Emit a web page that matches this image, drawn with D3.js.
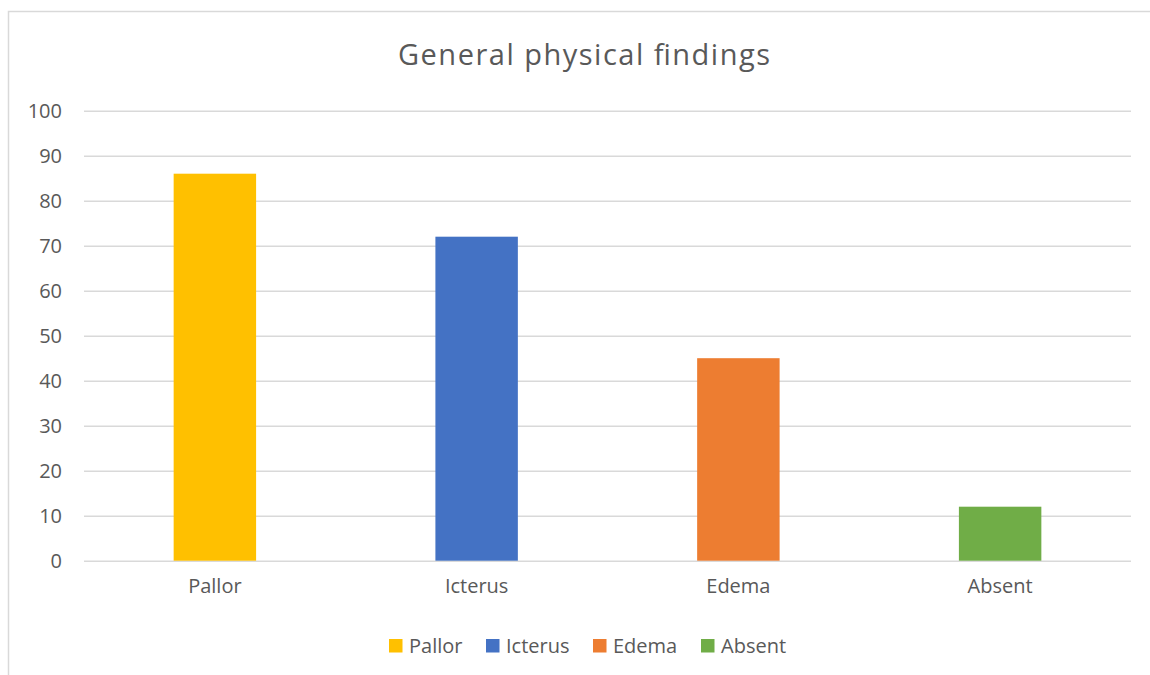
<!DOCTYPE html>
<html>
<head>
<meta charset="utf-8">
<script src="https://cdn.jsdelivr.net/npm/d3@7"></script>
<style>
  html, body { margin: 0; padding: 0; background: #fff; }
  svg { display: block; font-family: "Open Sans", "Noto Sans", sans-serif; }
</style>
</head>
<body>
<svg id="chart" width="1150" height="675"></svg>
<script>
const categories = ["Pallor", "Icterus", "Edema", "Absent"];
const values = [86, 72, 45, 12];
const colors = ["#FFC000", "#4472C4", "#ED7D31", "#70AD47"];
const yTicks = [0, 10, 20, 30, 40, 50, 60, 70, 80, 90, 100];
const title = "General physical findings";

const svg = d3.select("#chart");
const W = 1150, H = 675;
const plot = { left: 84, right: 1131, top: 110.7, bottom: 560.7 };
const textColor = "#595959";
const gridColor = "#d9d9d9";

svg.append("rect").attr("width", W).attr("height", H).attr("fill", "#fff");

// chart frame (right and bottom edges fall outside the page)
svg.append("rect")
  .attr("x", 8.5).attr("y", 11.5)
  .attr("width", W + 20).attr("height", H + 20)
  .attr("fill", "none").attr("stroke", gridColor).attr("stroke-width", 1.5);

// title
svg.append("text")
  .attr("x", 584).attr("y", 65)
  .attr("text-anchor", "middle")
  .attr("fill", textColor)
  .attr("font-size", 29)
  .attr("textLength", 372)
  .attr("lengthAdjust", "spacing")
  .text(title);

const x = d3.scaleBand().domain(categories).range([plot.left, plot.right]).padding(0);
const y = d3.scaleLinear().domain([0, 100]).range([plot.bottom, plot.top]);
const barW = x.bandwidth() * 0.315;

// value axis with gridlines
const yAxis = svg.append("g")
  .attr("transform", `translate(${plot.left},0)`)
  .call(d3.axisLeft(y).tickValues(yTicks).tickSize(-(plot.right - plot.left)).tickPadding(22));
yAxis.select(".domain").remove();
yAxis.selectAll(".tick line").attr("stroke", gridColor).attr("stroke-width", 1.5);
yAxis.selectAll(".tick text")
  .attr("fill", textColor)
  .attr("font-size", 20)
  .attr("font-family", "\"Open Sans\", sans-serif");

// bars
svg.append("g").selectAll("rect")
  .data(categories)
  .join("rect")
  .attr("x", d => x(d) + x.bandwidth() / 2 - barW / 2)
  .attr("y", (d, i) => y(values[i]))
  .attr("width", barW)
  .attr("height", (d, i) => y(0) - y(values[i]))
  .attr("fill", (d, i) => colors[i]);

// category axis
const xAxis = svg.append("g")
  .attr("transform", `translate(0,${plot.bottom})`)
  .call(d3.axisBottom(x).tickSize(0).tickPadding(18));
xAxis.select(".domain").remove();
xAxis.selectAll(".tick text")
  .attr("fill", textColor)
  .attr("font-size", 20)
  .attr("font-family", "\"Open Sans\", sans-serif");

// legend
const legendX = [389, 486, 593, 701];
const legend = svg.append("g").selectAll("g")
  .data(categories)
  .join("g")
  .attr("transform", (d, i) => `translate(${legendX[i]},639)`);
legend.append("rect")
  .attr("width", 13.5).attr("height", 13.5)
  .attr("fill", (d, i) => colors[i]);
legend.append("text")
  .attr("x", 20).attr("y", 14)
  .attr("fill", textColor)
  .attr("font-size", 20)
  .text(d => d);
</script>
</body>
</html>
